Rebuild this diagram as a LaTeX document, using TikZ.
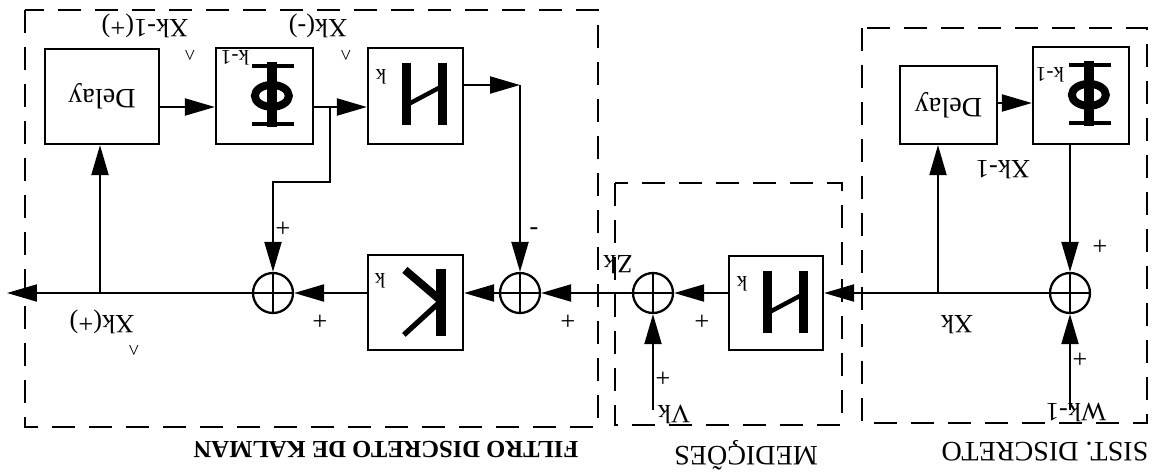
\documentclass[tikz,border=0pt]{standalone}
\usepackage{fontspec}
\setmainfont{Liberation Serif}
\usetikzlibrary{arrows.meta}
\begin{document}
\begin{tikzpicture}[x=0.02cm,y=-0.02cm,
  blk/.style={draw,line width=1.3pt,inner sep=0pt},
  sum/.style={draw,circle,line width=1.3pt,minimum size=0.8cm,inner sep=0pt},
  arr/.style={line width=1.2pt,-{Triangle[length=0.6cm,width=0.34cm]}},
  wire/.style={line width=1.2pt},
  grp/.style={line width=1.4pt,dash pattern=on 0.46cm off 0.28cm},
  lbl/.style={rotate=180,font=\fontsize{15}{15}\selectfont,inner sep=1pt},
  hat/.style={rotate=180,font=\fontsize{12}{12}\selectfont,inner sep=0pt},
  sub/.style={rotate=180,font=\fontsize{12}{12}\selectfont,inner sep=0pt},
  ttl/.style={rotate=180,font=\fontsize{16}{16}\selectfont,inner sep=0pt},
  phiglyph/.pic={
    \draw[line width=5.5pt] (57,15)--(57,80);
    \draw[line width=2.3pt] (37,19)--(79,19) (37,77)--(79,77);
    \draw[line width=4.5pt] (57,49) ellipse [x radius=17, y radius=11];
  },
  hglyph/.pic={
    \draw[line width=5pt] (40,16)--(40,78) (76,16)--(76,78);
    \draw[line width=2.5pt] (42,57)--(74,40);
  },
  kglyph/.pic={
    \draw[line width=5.5pt] (74,15)--(74,82);
    \draw[line width=4.5pt] (72,45)--(38,16);
    \draw[line width=3pt] (72,49)--(37,81);
  }
]
\useasboundingbox (0,0) rectangle (1154,474);

% groups
\draw[grp] (25,10) rectangle (598,427);
\draw[grp] (615,183) rectangle (842,425);
\draw[grp] (862,28) rectangle (1147,423);

% blocks
\node[blk,minimum width=2.28cm,minimum height=1.90cm] (delay1) at (102,96.5) {};
\node[blk,minimum width=1.94cm,minimum height=1.92cm] (phi1) at (264.5,96) {};
\node[blk,minimum width=1.90cm,minimum height=1.92cm] (h1) at (415.5,96) {};
\node[blk,minimum width=1.90cm,minimum height=1.90cm] (k1) at (415.5,302.5) {};
\node[blk,minimum width=1.88cm,minimum height=1.88cm] (h2) at (776,303) {};
\node[blk,minimum width=1.94cm,minimum height=1.56cm] (delay2) at (948.5,105) {};
\node[blk,minimum width=1.92cm,minimum height=1.94cm] (phi2) at (1081,95.5) {};

\node[ttl] at (delay1) {Delay};
\node[ttl] at (delay2) {Delay};
\pic at (phi1.north west) {phiglyph};
\pic at (phi2.north west) {phiglyph};
\pic at (h1.north west) {hglyph};
\pic at (h2.north west) {hglyph};
\pic at (k1.north west) {kglyph};
\node[sub] at (235,58) {k-1};
\node[sub] at (1050,75) {k-1};
\node[sub] at (381,77) {k};
\node[sub] at (742,284) {k};
\node[sub] at (380,281) {k};

% sums
\node[sum] (s1) at (273,293) {};
\node[sum] (s2) at (520,293) {};
\node[sum] (s3) at (653,293) {};
\node[sum] (s4) at (1070,293) {};
\foreach \s in {s1,s2,s3,s4}{\draw[wire] (\s.north)--(\s.south) (\s.west)--(\s.east);}

% free ends
\coordinate (out) at (7,293);
\coordinate (b1) at (100,293);
\coordinate (b2) at (938,293);
\coordinate (b3) at (330,107);
\coordinate (w) at (1070,410);
\coordinate (v) at (653,410);

% connectors
\draw[arr] (s4.west) -- (h2.east |- s4);
\draw[arr] (b2) -- (b2 |- delay2.south);
\draw[arr] (delay2.east |- 0,103) -- (phi2.west |- 0,103);
\draw[arr] (phi2.south -| s4) -- (s4.north);
\draw[arr] (w) -- (s4.south);
\draw[arr] (h2.west |- s3) -- (s3.east);
\draw[arr] (v) -- (s3.south);
\draw[arr] (s3.west) -- (s2.east);
\draw[arr] (s2.west) -- (k1.east |- s2);
\draw[arr] (k1.west |- s1) -- (s1.east);
\draw[arr] (s1.west) -- (out);
\draw[arr] (b1) -- (b1 |- delay1.south);
\draw[arr] (delay1.east |- 0,107) -- (phi1.west |- 0,107);
\draw[arr] (phi1.east |- 0,107) -- (h1.west |- 0,107);
\draw[arr] (b3) -- (330,182) -| (s1.north);
\draw[arr] (h1.east |- 0,85) -- (s2 |- 0,85);
\draw[arr] (s2 |- 0,85) -- (s2.north);

% labels
\node[lbl] at (102,322) {Xk(+)};
\node[hat] at (134,348) {\^{}};
\node[lbl] at (145,26) {Xk-1(+)};
\node[hat] at (190,53) {\^{}};
\node[lbl] at (318,26) {Xk(-)};
\node[hat] at (346,53) {\^{}};
\node[lbl] at (283,227) {+};
\node[lbl] at (320,320) {+};
\node[lbl] at (534,226) {-};
\node[lbl] at (568,320) {+};
\node[lbl] at (618,265) {Zk};
\node[lbl] at (702,320) {+};
\node[lbl] at (663,377) {+};
\node[lbl] at (674,414) {Vk};
\node[lbl] at (957,325) {Xk};
\node[lbl] at (1003,170) {Xk-1};
\node[lbl] at (1100,245) {+};
\node[lbl] at (1080,358) {+};
\node[lbl] at (1076,412) {Wk-1};

\node[ttl] at (1045,452) {SIST. DISCRETO};
\node[ttl] at (746,455) {MEDIÇÕES};
\node[ttl,font=\fontsize{14}{14}\selectfont\bfseries] at (386,450) {FILTRO DISCRETO DE KALMAN};
\end{tikzpicture}
\end{document}
